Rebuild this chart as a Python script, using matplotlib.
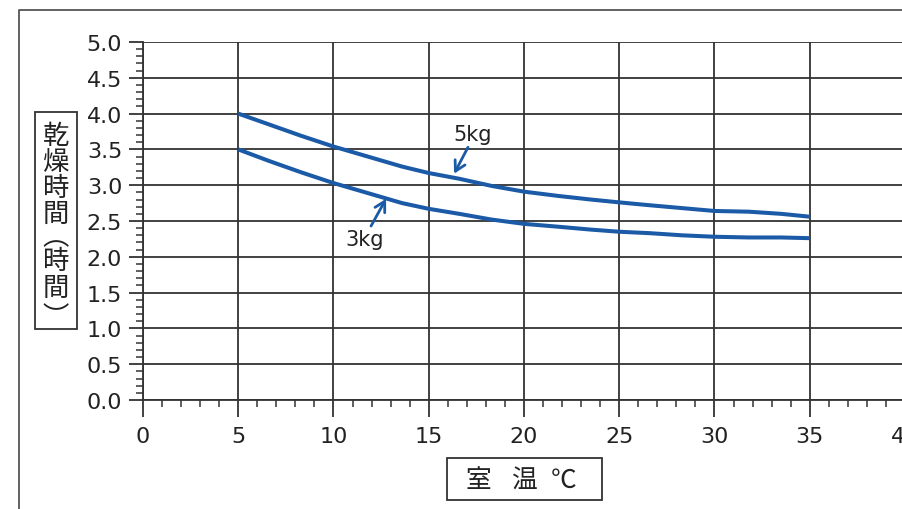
import matplotlib

matplotlib.use("Agg")
import matplotlib.pyplot as plt
from matplotlib.lines import Line2D
from matplotlib.patches import Rectangle
from matplotlib.ticker import MultipleLocator

# values
room_temp = [5, 6.6, 8.3, 10, 11.8, 13.6, 15, 16.6, 18.3, 20, 21.8, 23.5, 25, 26.6, 28.3, 30, 31.8, 33.5, 35]
dry_time_5kg = [4.00, 3.85, 3.69, 3.54, 3.40, 3.26, 3.17, 3.09, 2.99, 2.91, 2.85, 2.80, 2.76,
                2.72, 2.68, 2.64, 2.63, 2.60, 2.56]
dry_time_3kg = [3.50, 3.34, 3.18, 3.03, 2.89, 2.75, 2.67, 2.60, 2.52, 2.46, 2.42, 2.38, 2.35,
                2.33, 2.30, 2.28, 2.27, 2.27, 2.26]
y_label_chars = ["乾", "燥", "時", "間", "︵", "時", "間", "︶"]
x_label_chars = ["室", "温", "℃"]

W, H = 903, 510
BLUE = "#1b5aa6"
DARK = "#333333"
TEXT = "#222222"
CJK = ["Noto Sans CJK JP", "DejaVu Sans"]


def fx(px: float) -> float:
    return px / W


def fy(py: float) -> float:
    return 1 - py / H


def main() -> None:
    plt.rcParams.update({"font.family": "DejaVu Sans", "font.size": 16})
    fig = plt.figure(figsize=(W / 100, H / 100), dpi=100)
    ax = fig.add_axes([fx(143), fy(401), fx(905) - fx(143), fy(43) - fy(401)])

    for series in (dry_time_5kg, dry_time_3kg):
        ax.plot(room_temp, series, color=BLUE, lw=2.9, solid_capstyle="butt",
                solid_joinstyle="round", zorder=3)

    ax.set_xlim(0, 40)
    ax.set_ylim(0, 5)
    ax.xaxis.set_major_locator(MultipleLocator(5))
    ax.xaxis.set_minor_locator(MultipleLocator(1))
    ax.yaxis.set_major_locator(MultipleLocator(0.5))
    ax.yaxis.set_minor_locator(MultipleLocator(0.1))
    ax.set_yticklabels([f"{v:.1f}" for v in ax.get_yticks()])
    ax.grid(which="major", color=DARK, lw=1.3)
    ax.set_axisbelow(True)
    for side in ("top", "right"):
        ax.spines[side].set_visible(False)
    for side in ("left", "bottom"):
        ax.spines[side].set_color(DARK)
        ax.spines[side].set_linewidth(1.3)
    ax.tick_params(axis="x", which="major", length=12, width=1.3, color=DARK, pad=7, labelcolor=TEXT)
    ax.tick_params(axis="x", which="minor", length=5, width=1.1, color=DARK)
    ax.tick_params(axis="y", which="major", length=10, width=1.3, color=DARK, pad=5, labelcolor=TEXT)
    ax.tick_params(axis="y", which="minor", length=5, width=1.1, color=DARK)

    arrow = dict(arrowstyle="->,head_length=0.45,head_width=0.25", color=BLUE, lw=2, shrinkA=0, shrinkB=0)
    ax.annotate("", xy=(16.33, 3.16), xytext=(17.06, 3.53), arrowprops=arrow)
    ax.annotate("", xy=(12.76, 2.81), xytext=(11.97, 2.43), arrowprops=arrow)
    ax.text(17.3, 3.72, "5kg", fontsize=15, ha="center", va="center", color=TEXT)
    ax.text(11.65, 2.25, "3kg", fontsize=15, ha="center", va="center", color=TEXT)

    # outer frame (only the top and left edges fall inside the picture)
    fig.add_artist(Line2D([fx(19), fx(19), 1.0], [0.0, fy(11), fy(11)], transform=fig.transFigure,
                          color="#555555", lw=1.3))

    # boxed y label, written vertically (vertical-form brackets sit off-centre in their em box)
    fig.add_artist(Rectangle((fx(35), fy(330)), fx(77) - fx(35), fy(113) - fy(330), transform=fig.transFigure,
                             fill=False, ec=DARK, lw=1.3))
    for ch, cy in zip(y_label_chars, [137, 163, 189, 214, 238, 262, 288, 318]):
        fig.text(fx(56), fy(cy), ch, family=CJK, fontsize=19, ha="center", va="center", color=TEXT)

    # boxed x label
    fig.add_artist(Rectangle((fx(447), fy(501)), fx(602) - fx(447), fy(459) - fy(501), transform=fig.transFigure,
                             fill=False, ec=DARK, lw=1.3))
    for ch, cx in zip(x_label_chars, [478, 525, 564]):
        fig.text(fx(cx), fy(481), ch, family=CJK, fontsize=18.5, ha="center", va="center", color=TEXT)

    fig.savefig("out.png", dpi=100)
    plt.close(fig)


if __name__ == "__main__":
    main()
